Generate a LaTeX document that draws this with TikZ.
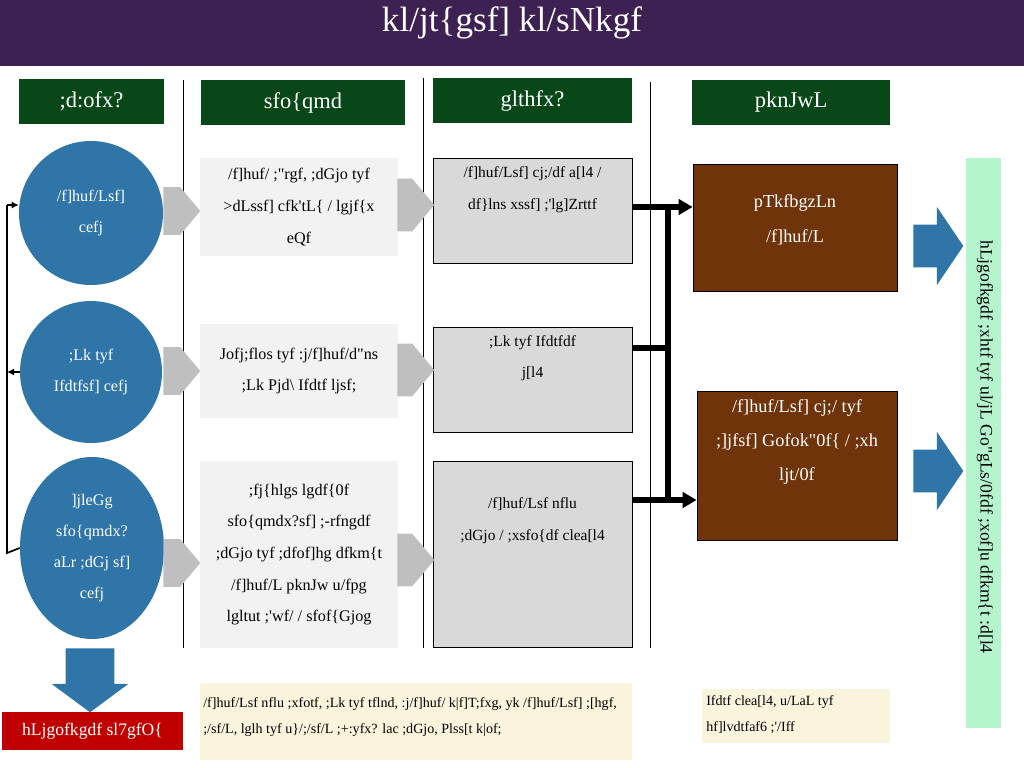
\documentclass[tikz,border=0pt]{standalone}
\usepackage{fontspec}
\setmainfont[Ligatures={TeXOff,CommonOff}]{Liberation Serif}
\usepackage{tikz}
\usetikzlibrary{arrows.meta,positioning,shapes.geometric,shapes.arrows,calc}
\usepackage{xcolor}
\definecolor{titlebg}{RGB}{61,33,82}
\definecolor{hdrgreen}{RGB}{8,72,24}
\definecolor{causeblue}{RGB}{47,117,168}
\definecolor{stepfill}{RGB}{242,242,242}
\definecolor{resfill}{RGB}{217,217,217}
\definecolor{arrgray}{RGB}{191,191,191}
\definecolor{outbrown}{RGB}{112,52,10}
\definecolor{goalmint}{RGB}{180,245,205}
\definecolor{gapred}{RGB}{192,0,0}
\definecolor{notecream}{RGB}{250,244,220}
\newlength{\pxu}
\setlength{\pxu}{0.025cm}
\tikzset{
  titlebar/.style={rectangle,fill=titlebg,minimum width=1024\pxu,minimum height=66\pxu,inner sep=0pt},
  hdr/.style={rectangle,fill=hdrgreen,text=white,font=\fontsize{16}{19}\selectfont,minimum height=45\pxu,inner sep=0pt},
  cause/.style={fill=causeblue,text=white,align=center,font=\fontsize{11.5}{22}\selectfont,inner sep=0pt},
  stepbox/.style={rectangle,fill=stepfill,align=center,font=\fontsize{11.5}{22.5}\selectfont,minimum width=198\pxu,inner sep=0pt},
  resbox/.style={rectangle,draw=black,line width=0.6pt,fill=resfill,minimum width=199\pxu,inner sep=0pt},
  restext/.style={align=center,font=\fontsize{11}{22.5}\selectfont,inner sep=0pt,anchor=north},
  outbox/.style={rectangle,draw=black,line width=0.6pt,fill=outbrown,inner sep=0pt},
  outtext/.style={text=white,align=center,font=\fontsize{13}{24.5}\selectfont,inner sep=0pt},
  grayarr/.style={single arrow,fill=arrgray,single arrow head extend=0pt,single arrow tip angle=100,minimum height=37\pxu,inner sep=0pt,anchor=tail},
  bluearr/.style={single arrow,fill=causeblue,single arrow head extend=18\pxu,single arrow tip angle=112,minimum height=50\pxu,inner sep=0pt,anchor=tail},
  notebox/.style={rectangle,fill=notecream,anchor=north west,inner sep=0pt},
  notetext/.style={align=left,anchor=north west,font=\fontsize{10}{18.5}\selectfont,inner sep=0pt},
  sepline/.style={line width=0.6pt},
  conn/.style={line width=3.6pt},
  fb/.style={line width=1.2pt},
}

\begin{document}
\begin{tikzpicture}[x=0.025cm,y=-0.025cm,>={Latex[length=5pt,width=5pt]}]
  \useasboundingbox (0,0) rectangle (1024,768);
  % title
  \node[titlebar] (bar) at (512,33) {};
  \node[text=white,font=\fontsize{25}{30}\selectfont] (title) at (512,23) {kl/jt\{gsf] kl/sNkgf};

  % column heads
  \node[hdr,minimum width=145\pxu] (h1) at (91.5,101.5) {;d:ofx?};
  \node[hdr,minimum width=204\pxu] (h2) at (303,102.5) {sfo\{qmd};
  \node[hdr,minimum width=199\pxu] (h3) at (532.5,101) {glthfx?};
  \node[hdr,minimum width=198\pxu] (h4) at (791,102.5) {pknJwL};

  \draw[sepline] (183,80) -- (183,648);
  \draw[sepline] (423,78) -- (423,648);
  \draw[sepline] (650,82) -- (650,648);

  % problems
  \node[cause,circle,minimum size=144\pxu] (c1) at (91,213) {/f]huf/Lsf]\\cefj};
  \node[cause,circle,minimum size=142\pxu] (c2) at (91,372) {;Lk tyf\\Ifdtfsf] cefj};
  \node[cause,ellipse,minimum width=144\pxu,minimum height=182\pxu] (c3) at (92,548)
    {]jleGg\\sfo\{qmdx?\\aLr ;dGj sf]\\cefj};

  % feedback line on the left
  \coordinate (lp1) at (7,205);
  \coordinate (lp3) at (7,553);
  \draw[fb] (c3.west) -- (lp3) -- (lp1);
  \draw[fb,->] (lp1) -- (c1.west |- lp1);
  \draw[fb,->] (c2.west) -- (c2.west -| lp1);

  % programmes
  \node[stepbox,minimum height=98\pxu] (s1) at (299,207)
    {/f]huf/ ;"rgf, ;dGjo tyf\\>dLssf] cfk'tL\{ / lgjf\{x\\eQf};
  \node[stepbox,minimum height=94\pxu] (s2) at (299,371)
    {Jofj;flos tyf :j/f]huf/d"ns\\;Lk Pjd\textbackslash{} Ifdtf ljsf;};
  \node[stepbox,minimum height=187\pxu] (s3) at (299,554.5)
    {;fj\{hlgs lgdf\{0f\\sfo\{qmdx?sf] ;-rfngdf\\;dGjo tyf ;dfof]hg dfkm\{t\\/f]huf/L pknJw u/fpg\\lgltut ;'wf/ / sfof\{Gjog};

  \node[grayarr] (a1) at (163,211) {\rule{0pt}{47\pxu}};
  \node[grayarr] (a2) at (163,371) {\rule{0pt}{47\pxu}};
  \node[grayarr] (a3) at (163,563) {\rule{0pt}{47\pxu}};

  % results
  \node[resbox,minimum height=105\pxu] (g1) at (532.5,211) {};
  \node[resbox,minimum height=105\pxu] (g2) at (532.5,379.5) {};
  \node[resbox,minimum height=186\pxu] (g3) at (532.5,554.5) {};
  \node[restext] (g1t) at ([yshift=-6pt]g1.north) {/f]huf/Lsf] cj;/df a[l4 /\\df\}lns xssf] ;'lg]Zrttf};
  \node[restext] (g2t) at ([yshift=-6pt]g2.north) {;Lk tyf Ifdtfdf\\j[l4};
  \node[restext] (g3t) at ([yshift=-26pt]g3.north) {/f]huf/Lsf nflu\\;dGjo / ;xsfo\{df clea[l4};

  \node[grayarr] (b1a) at (397,205) {\rule{0pt}{52\pxu}};
  \node[grayarr] (b2a) at (397,370) {\rule{0pt}{52\pxu}};
  \node[grayarr] (b3a) at (397,560) {\rule{0pt}{52\pxu}};

  % outcomes
  \node[outbox,minimum width=204\pxu,minimum height=127\pxu] (b1) at (795,228) {};
  \node[outbox,minimum width=200\pxu,minimum height=149\pxu] (b2) at (797,466) {};
  \node[outtext] (b1t) at (795,220) {pTkfbgzLn\\/f]huf/L};
  \node[outtext] (b2t) at (797,442) {/f]huf/Lsf] cj;/ tyf\\;]jfsf] Gofok"0f\{ / ;xh\\ljt/0f};

  \coordinate (jtop) at (668,207);
  \coordinate (jmid) at (668,348);
  \coordinate (jbot) at (668,500);
  \draw[conn] (g1.east |- jtop) -- (jtop);
  \draw[conn] (g2.east |- jmid) -- (jmid);
  \draw[conn] (g3.east |- jbot) -- (jbot);
  \draw[conn] ([yshift=1.8pt]jtop) -- ([yshift=-1.8pt]jbot);
  \draw[conn,-{Triangle[length=10pt,width=11pt]}] (jtop) -- (b1.west |- jtop);
  \draw[conn,-{Triangle[length=10pt,width=11pt]}] (jbot) -- (b2.west |- jbot);

  \node[bluearr] (o1) at (913,246) {\rule{0pt}{42\pxu}};
  \node[bluearr] (o2) at (913,471) {\rule{0pt}{42\pxu}};

  % goal
  \node[rectangle,fill=goalmint,minimum width=35\pxu,minimum height=570\pxu,inner sep=0pt] (goal) at (983,443) {};
  \node[rotate=-90,font=\fontsize{12.5}{15}\selectfont] (goalt) at (985,447)
    {hLjgofkgdf ;xhtf tyf ul/jL Go"gLs/0fdf ;xof]u dfkm\{t :d[l4};

  % gap
  \node[single arrow,fill=causeblue,rotate=-90,anchor=tail,single arrow head extend=14\pxu,single arrow tip angle=107,
    minimum height=64\pxu,inner sep=0pt] (down) at (90,648) {\rule{0pt}{48\pxu}};
  \node[rectangle,fill=gapred,text=white,minimum width=181\pxu,minimum height=38\pxu,inner sep=0pt,
    font=\fontsize{12.5}{15}\selectfont] (gap) at (92.5,731) {hLjgofkgdf sl7gfO\{};

  % notes
  \node[notebox,minimum width=432\pxu,minimum height=77\pxu] (n1) at (200,683) {};
  \node[notetext] (n1t) at (203,697)
    {/f]huf/Lsf nflu ;xfotf, ;Lk tyf tflnd, :j/f]huf/ k|f]T;fxg, yk /f]huf/Lsf] ;[hgf,\\;/sf/L, lglh tyf u\}/;/sf/L ;+:yfx? lac ;dGjo, Plss[t k|of;};
  \node[notebox,minimum width=188\pxu,minimum height=54\pxu] (n2) at (702,689) {};
  \node[notetext] (n2t) at (706,695) {Ifdtf clea[l4, u/LaL tyf\\hf]lvdtfaf6 ;'/Iff};
\end{tikzpicture}
\end{document}
